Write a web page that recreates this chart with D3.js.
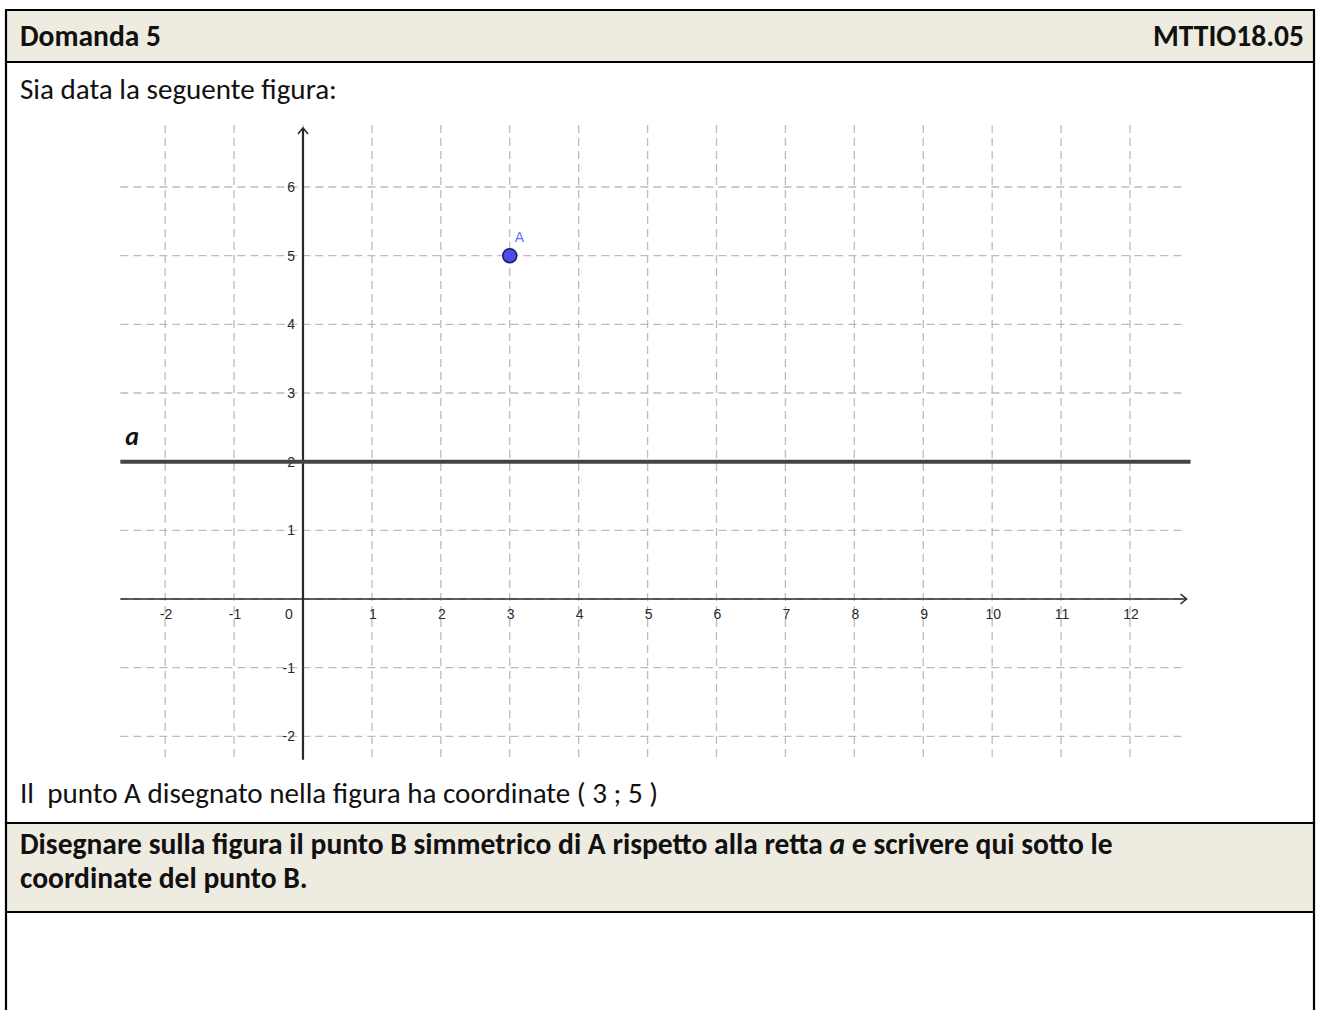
<!DOCTYPE html>
<html>
<head>
<meta charset="utf-8">
<script src="https://cdn.jsdelivr.net/npm/d3@7"></script>
<style>
  html, body { margin: 0; padding: 0; background: #fff; }
  svg { display: block; }
  .doc-text { font-family: Carlito, Calibri, Lato, sans-serif; fill: #111; }
  .tick-label { font-family: "Liberation Sans", Arial, sans-serif; font-size: 14px; fill: #2a2a2a; }
  .grid line { stroke: #bcbcbc; stroke-width: 1.3; stroke-dasharray: 8 5; }
</style>
</head>
<body>
<div id="chart"></div>
<script>
// dati della figura
const xTicks = [-2, -1, 0, 1, 2, 3, 4, 5, 6, 7, 8, 9, 10, 11, 12];
const yTicks = [-2, -1, 0, 1, 2, 3, 4, 5, 6];
const xDomain = [-2.65, 12.82];   // estensione visibile asse x
const yDomain = [-2.34, 6.86];    // estensione visibile asse y
const points  = [{ label: 'A', x: 3, y: 5 }];
const lines   = [{ label: 'a', y: 2 }];

const headerLeft  = 'Domanda 5';
const headerRight = 'MTTIO18.05';
const introText   = 'Sia data la seguente figura:';
const noteText    = 'Il\u00a0 punto A disegnato nella figura ha coordinate ( 3 ; 5 )';
const taskLine1   = ['Disegnare sulla figura il punto B simmetrico di A rispetto alla retta ', 'a', ' e scrivere qui sotto le'];
const taskLine2   = 'coordinate del punto B.';

const W = 1320, H = 1010;
const BEIGE = '#eeece1';

const svg = d3.select('#chart').append('svg')
  .attr('width', W)
  .attr('height', H);

// Tabella (righe e bordi)
const T = { left: 6, right: 1314, top: 10, head: 62, mid1: 823, mid2: 912, bottom: 1030 };

svg.append('rect').attr('x', T.left).attr('y', T.top)
  .attr('width', T.right - T.left).attr('height', T.head - T.top).attr('fill', BEIGE);
svg.append('rect').attr('x', T.left).attr('y', T.mid1)
  .attr('width', T.right - T.left).attr('height', T.mid2 - T.mid1).attr('fill', BEIGE);

const borders = svg.append('g').attr('stroke', '#000').attr('stroke-width', 2.2);
borders.append('line').attr('x1', T.left).attr('x2', T.left).attr('y1', T.top).attr('y2', T.bottom);
borders.append('line').attr('x1', T.right).attr('x2', T.right).attr('y1', T.top).attr('y2', T.bottom);
[T.top, T.head, T.mid1, T.mid2].forEach(y => {
  borders.append('line').attr('x1', T.left - 1).attr('x2', T.right + 1).attr('y1', y).attr('y2', y);
});

// Testi: dimensione del font ricavata dalla larghezza delle righe
function sizeFor(sel, width) {
  sel.attr('font-size', 100);
  return 100 * width / sel.node().getComputedTextLength();
}

const intro = svg.append('text').attr('class', 'doc-text')
  .attr('x', 20).attr('y', 99).text(introText);
const note = svg.append('text').attr('class', 'doc-text')
  .attr('x', 20).attr('y', 803).text(noteText);
const regSize = (sizeFor(intro, 325) + sizeFor(note, 622)) / 2;
intro.attr('font-size', regSize);
note.attr('font-size', regSize);

const t1 = svg.append('text').attr('class', 'doc-text').attr('font-weight', 700)
  .attr('x', 20).attr('y', 854);
t1.selectAll('tspan').data(taskLine1).enter().append('tspan')
  .attr('font-style', (d, i) => i === 1 ? 'italic' : null)
  .text(d => d);
const boldSize = sizeFor(t1, 1093);
t1.attr('font-size', boldSize);

svg.append('text').attr('class', 'doc-text').attr('font-weight', 700)
  .attr('font-size', boldSize).attr('x', 20).attr('y', 888).text(taskLine2);

svg.append('text').attr('class', 'doc-text').attr('font-weight', 700)
  .attr('font-size', boldSize)
  .attr('x', 20).attr('y', 46).text(headerLeft);
svg.append('text').attr('class', 'doc-text').attr('font-weight', 700)
  .attr('font-size', boldSize)
  .attr('x', 1304).attr('y', 46).attr('text-anchor', 'end').text(headerRight);

// Piano cartesiano
const x = d3.scaleLinear().domain([0, 12]).range([303, 1130]);
const y = d3.scaleLinear().domain([0, 6]).range([599, 187]);

const plot = svg.append('g');

// griglia tratteggiata
const grid = plot.append('g').attr('class', 'grid');
grid.selectAll('.gx').data(xTicks).enter().append('line')
  .attr('x1', d => x(d)).attr('x2', d => x(d))
  .attr('y1', y(yDomain[1]) - 3).attr('y2', y(yDomain[0]));
grid.selectAll('.gy').data(yTicks).enter().append('line')
  .attr('y1', d => y(d)).attr('y2', d => y(d))
  .attr('x1', x(xDomain[0])).attr('x2', x(xDomain[1]) - 2);

// assi
const axis = plot.append('g').attr('stroke', '#2a2a2a').attr('fill', 'none');
axis.append('line')
  .attr('x1', x(xDomain[0])).attr('x2', x(xDomain[1]))
  .attr('y1', y(0)).attr('y2', y(0)).attr('stroke-width', 1.6);
axis.append('path')
  .attr('d', `M${x(xDomain[1]) - 6},${y(0) - 5}L${x(xDomain[1])},${y(0)}L${x(xDomain[1]) - 6},${y(0) + 5}`)
  .attr('stroke-width', 1.6);
axis.append('line')
  .attr('x1', x(0)).attr('x2', x(0))
  .attr('y1', y(yDomain[0])).attr('y2', y(yDomain[1])).attr('stroke-width', 2.2);
axis.append('path')
  .attr('d', `M${x(0) - 5},${y(yDomain[1]) + 6}L${x(0)},${y(yDomain[1])}L${x(0) + 5},${y(yDomain[1]) + 6}`)
  .attr('stroke-width', 1.6);

// etichette tick
plot.selectAll('.xl').data(xTicks).enter().append('text')
  .attr('class', 'tick-label')
  .attr('x', d => d === 0 ? x(d) - 14 : x(d) + 1)
  .attr('y', y(0) + 20)
  .attr('text-anchor', 'middle')
  .text(d => d);
plot.selectAll('.yl').data(yTicks.filter(d => d !== 0)).enter().append('text')
  .attr('class', 'tick-label')
  .attr('x', x(0) - 8)
  .attr('y', d => y(d) + 5)
  .attr('text-anchor', 'end')
  .text(d => d);

// retta a
plot.selectAll('.retta').data(lines).enter().append('line')
  .attr('x1', x(xDomain[0])).attr('x2', x(xDomain[1]) + 4)
  .attr('y1', d => y(d.y)).attr('y2', d => y(d.y))
  .attr('stroke', '#444').attr('stroke-width', 4);
plot.selectAll('.retta-label').data(lines).enter().append('text')
  .attr('class', 'doc-text')
  .attr('font-weight', 700).attr('font-style', 'italic').attr('font-size', 26)
  .attr('x', x(xDomain[0]) + 5).attr('y', d => y(d.y) - 17)
  .text(d => d.label);

// punto A
plot.selectAll('.pt').data(points).enter().append('circle')
  .attr('cx', d => x(d.x)).attr('cy', d => y(d.y)).attr('r', 7)
  .attr('fill', '#4b4bef').attr('stroke', '#1c1c5e').attr('stroke-width', 1.5);
plot.selectAll('.pt-label').data(points).enter().append('text')
  .attr('class', 'tick-label')
  .attr('font-size', 15)
  .attr('x', d => x(d.x) + 5).attr('y', d => y(d.y) - 14)
  .style('fill', '#6b6bff')
  .text(d => d.label);
</script>
</body>
</html>
